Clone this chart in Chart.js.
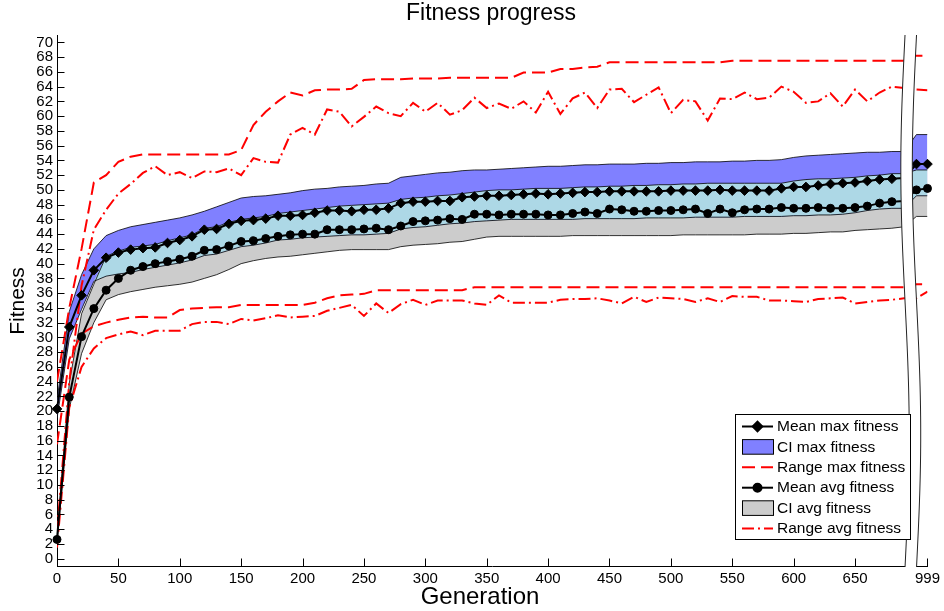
<!DOCTYPE html>
<html><head><meta charset="utf-8">
<style>html,body{margin:0;padding:0;background:#fff;}#wrap{width:944px;height:611px;}</style>
<script src="https://cdn.jsdelivr.net/npm/chart.js@4.4.1/dist/chart.umd.min.js"></script>
</head><body><div id="wrap"><canvas id="c" width="944" height="611"></canvas></div>
<script>
// ---- data ----
const generations = [
0,10,20,30,40,50,60,70,80,90,
100,110,120,130,140,150,160,170,180,190,
200,210,220,230,240,250,260,270,280,290,
300,310,320,330,340,350,360,370,380,390,
400,410,420,430,440,450,460,470,480,490,
500,510,520,530,540,550,560,570,580,590,
600,610,620,630,640,650,660,670,680,690,
990,999];
const meanMax = [
20.3,31.4,35.7,39.1,40.8,41.5,41.9,42.1,42.2,42.8,
43.2,43.7,44.6,44.7,45.4,45.8,45.9,46.1,46.5,46.5,
46.6,46.9,47.2,47.2,47.1,47.3,47.3,47.5,48.2,48.4,
48.4,48.5,48.5,49.0,49.1,49.2,49.2,49.3,49.4,49.5,
49.4,49.5,49.6,49.7,49.7,49.8,49.8,49.8,49.8,49.8,
49.9,49.9,49.9,49.9,50.0,49.9,49.9,49.9,49.9,50.2,
50.4,50.4,50.6,50.8,50.9,51.0,51.2,51.4,51.5,51.6,
53.5,53.5];
const meanAvg = [
2.6,21.9,30.1,33.9,36.4,38.0,39.1,39.6,40.0,40.3,
40.6,41.0,41.8,41.9,42.4,43.0,43.1,43.4,43.7,43.9,
44.0,44.0,44.6,44.6,44.6,44.7,44.8,44.6,45.1,45.7,
45.8,45.9,46.1,46.0,46.7,46.7,46.6,46.7,46.7,46.7,
46.6,46.6,46.8,47.0,46.8,47.4,47.3,47.1,47.1,47.2,
47.2,47.3,47.4,46.8,47.4,46.9,47.3,47.4,47.4,47.6,
47.5,47.5,47.6,47.5,47.5,47.6,47.8,48.2,48.4,48.5,
50.0,50.2];
const ciMaxUpper = [
21.5,33.5,38.5,42.0,43.8,44.5,45.0,45.3,45.6,45.9,
46.2,46.6,47.1,47.7,48.3,48.9,49.1,49.2,49.4,49.6,
49.9,50.1,50.2,50.4,50.5,50.6,50.8,50.9,51.7,51.9,
52.1,52.3,52.4,52.6,52.7,52.7,52.8,52.9,53.0,53.1,
53.2,53.2,53.3,53.4,53.4,53.5,53.5,53.5,53.6,53.6,
53.7,53.7,53.8,53.8,53.8,53.9,53.9,54.0,54.0,54.1,
54.4,54.6,54.7,54.8,54.9,55.0,55.1,55.1,55.2,55.2,
57.5,57.5];
const ciMaxLower = [
19.0,29.8,33.8,37.6,38.3,38.6,38.8,39.2,39.5,39.8,
40.1,40.5,41.1,41.3,41.8,42.3,42.5,42.8,43.2,43.3,
43.5,43.6,43.7,43.8,43.9,43.9,44.0,44.1,44.7,44.9,
45.0,45.2,45.4,45.5,45.7,45.8,45.9,46.0,46.0,46.0,
46.0,46.0,46.0,46.1,46.1,46.1,46.1,46.1,46.2,46.2,
46.2,46.2,46.3,46.3,46.3,46.3,46.4,46.4,46.4,46.4,
46.5,46.5,46.6,46.6,46.7,46.9,47.2,47.4,47.5,47.5,
49.2,49.2];
const ciAvgUpper = [
3.2,23.8,33.2,37.2,41.0,41.7,42.2,42.4,42.6,43.1,
43.5,43.9,44.8,45.0,45.6,46.0,46.2,46.4,46.8,47.0,
47.2,47.4,47.6,47.8,47.9,48.0,48.1,48.2,48.7,48.9,
49.0,49.2,49.3,49.5,49.7,49.9,50.0,50.0,50.1,50.2,
50.2,50.2,50.3,50.4,50.4,50.5,50.5,50.6,50.6,50.7,
50.7,50.8,50.8,50.9,50.9,50.9,50.9,50.9,50.9,50.9,
51.2,51.4,51.5,51.5,51.6,51.7,51.9,52.0,52.2,52.2,
52.7,52.7];
const ciAvgLower = [
2.0,20.3,27.8,32.0,35.1,35.8,36.2,36.5,36.8,37.0,
37.2,37.5,38.0,38.5,39.2,40.0,40.4,40.7,40.9,41.0,
41.2,41.4,41.6,41.8,41.9,41.9,41.9,41.9,42.3,42.5,
42.6,42.7,42.9,43.0,43.3,43.6,43.7,43.7,43.7,43.7,
43.7,43.7,43.8,43.8,43.8,43.8,43.8,43.8,43.8,43.8,
43.8,43.9,43.9,43.9,43.9,43.9,43.9,44.0,44.0,44.0,
44.1,44.1,44.2,44.3,44.3,44.5,44.6,44.7,44.8,45.0,
46.4,46.4];
const rangeMaxUpper = [
24.0,34.0,42.0,51.0,52.0,53.8,54.5,54.8,54.8,54.8,
54.8,54.8,54.8,54.8,54.8,55.4,58.8,60.6,62.0,63.2,
62.8,63.5,63.6,63.6,63.7,64.9,65.0,65.0,65.0,65.1,
65.1,65.1,65.2,65.2,65.2,65.2,65.2,65.2,65.9,65.9,
65.9,66.4,66.4,66.6,66.7,67.3,67.3,67.3,67.3,67.3,
67.3,67.3,67.3,67.3,67.3,67.5,67.5,67.5,67.5,67.5,
67.5,67.5,67.5,67.5,67.5,67.5,67.5,67.5,67.5,67.5,
68.2,68.2];
const rangeMaxLower = [
15.5,27.0,30.5,31.5,32.0,32.4,32.7,32.8,32.7,32.7,
33.7,33.9,34.0,34.1,34.1,34.4,34.4,34.4,34.4,34.4,
34.4,34.7,35.3,35.7,35.8,35.9,36.4,36.4,36.4,36.4,
36.4,36.4,36.4,36.4,36.8,36.8,36.8,36.8,36.8,36.8,
36.8,36.8,36.8,36.8,36.8,36.8,36.8,36.8,36.8,36.8,
36.8,36.8,36.8,36.8,36.8,36.8,36.8,36.8,36.8,36.8,
36.8,36.8,36.8,36.8,36.8,36.8,36.8,36.8,36.8,36.8,
37.2,37.2];
const rangeAvgUpper = [
3.5,24.0,37.0,44.6,47.3,49.5,50.8,52.3,53.2,52.0,
52.4,51.6,52.5,52.4,52.9,52.0,54.3,53.8,53.7,57.5,
58.4,57.5,60.9,60.6,58.6,59.9,61.3,60.4,60.0,61.8,
60.6,61.8,60.2,60.8,62.5,61.1,61.7,61.0,62.0,60.5,
63.3,60.3,62.4,63.2,61.1,63.6,63.7,61.9,62.9,63.9,
60.4,62.2,62.0,59.4,62.4,62.3,63.2,62.3,62.5,64.0,
63.3,61.8,62.0,63.1,61.3,63.6,62.0,63.2,64.0,63.8,
63.6,63.5];
const rangeAvgLower = [
1.5,20.5,26.0,28.5,29.9,30.4,30.8,30.3,30.9,30.9,
30.9,31.8,32.1,32.1,31.8,32.5,32.3,32.6,33.0,32.7,
32.8,32.9,33.6,34.0,34.4,32.9,34.6,33.3,34.5,35.1,
34.4,35.0,35.0,35.0,34.6,34.4,35.7,34.7,34.7,34.7,
34.7,35.1,35.2,35.2,35.3,35.0,34.6,35.5,34.8,35.4,
35.3,35.2,34.8,35.3,34.8,35.6,35.5,35.5,35.0,35.0,
34.9,34.8,35.2,35.3,35.4,34.6,34.8,35.0,35.1,35.3,
35.3,36.2];
const xTickGenerations = [0,50,100,150,200,250,300,350,400,450,500,550,600,650,999];
const yTickValues = [0,2,4,6,8,10,12,14,16,18,20,22,24,26,28,30,32,34,36,38,40,42,44,46,48,50,52,54,56,58,60,62,64,66,68,70];
const hiddenMarkerGen = 690;  // last point before the axis break (no marker)

// ---- broken axis: generations after 700 are shifted left ----
const BREAK_AT = 700, BREAK_SHIFT = 290, BREAK_POS = 690.7;
const xPos = g => (g > BREAK_AT ? g - BREAK_SHIFT : g);
const pts = arr => generations.map((g, i) => ({x: xPos(g), y: arr[i]}));
const radii = r => generations.map(g => (g === hiddenMarkerGen ? 0 : r));
const overlapTop = generations.map((g, i) => {
  const t = Math.min(ciMaxUpper[i], ciAvgUpper[i]), b = Math.max(ciMaxLower[i], ciAvgLower[i]);
  return t > b ? t : b;
});
const overlapBottom = generations.map((g, i) => Math.max(ciMaxLower[i], ciAvgLower[i]));
const tickLabel = {};
xTickGenerations.forEach(g => { tickLabel[xPos(g)] = String(g); });

const BLUE = '#8080FF', LIGHT = '#ADD8E6', GREY = '#CCCCCC', RED = '#FF0000';
const DASH = [13, 6], DASHDOT = [12, 4, 2, 4];
const FONT = 'Liberation Sans, Arial, sans-serif';

const noLine = {borderColor: 'rgba(0,0,0,0)', borderWidth: 0, pointRadius: 0, pointHoverRadius: 0};
const edge = {borderColor: '#000', borderWidth: 0.8, pointRadius: 0, pointHoverRadius: 0};

const datasets = [
  {label: 'Mean max fitness', data: pts(meanMax), borderColor: '#000', borderWidth: 2,
   pointStyle: 'rectRot', pointRadius: radii(4.8), pointBackgroundColor: '#000', pointBorderColor: '#000',
   pointBorderWidth: 1, fill: false, clip: false},
  {label: 'Mean avg fitness', data: pts(meanAvg), borderColor: '#000', borderWidth: 2,
   pointStyle: 'circle', pointRadius: radii(4), pointBackgroundColor: '#000', pointBorderColor: '#000',
   pointBorderWidth: 1, fill: false, clip: false},
  {label: 'Range max fitness', data: pts(rangeMaxUpper), borderColor: RED, borderWidth: 2, borderDash: DASH, pointRadius: 0, fill: false},
  {label: 'Range max fitness (low)', data: pts(rangeMaxLower), borderColor: RED, borderWidth: 2, borderDash: DASH, pointRadius: 0, fill: false},
  {label: 'Range avg fitness', data: pts(rangeAvgUpper), borderColor: RED, borderWidth: 2, borderDash: DASHDOT, pointRadius: 0, fill: false},
  {label: 'Range avg fitness (low)', data: pts(rangeAvgLower), borderColor: RED, borderWidth: 2, borderDash: DASHDOT, pointRadius: 0, fill: false},
  Object.assign({label: 'overlap top', data: pts(overlapTop), fill: '+1', backgroundColor: LIGHT}, noLine),
  Object.assign({label: 'overlap bottom', data: pts(overlapBottom), fill: false}, noLine),
  Object.assign({label: 'CI max fitness', data: pts(ciMaxUpper), fill: '+1', backgroundColor: BLUE}, edge),
  Object.assign({label: 'CI max low', data: pts(ciMaxLower), fill: false}, edge),
  Object.assign({label: 'CI avg fitness', data: pts(ciAvgUpper), fill: '+1', backgroundColor: GREY}, edge),
  Object.assign({label: 'CI avg low', data: pts(ciAvgLower), fill: false}, edge)
];

const insideTicks = {
  id: 'insideTicks',
  afterDatasetsDraw(chart) {
    const {ctx, chartArea: a, scales: {x, y}} = chart;
    ctx.save(); ctx.strokeStyle = '#000'; ctx.lineWidth = 1; ctx.setLineDash([]);
    ctx.beginPath();
    y.ticks.forEach(t => { const py = Math.round(y.getPixelForValue(t.value)) + 0.5; ctx.moveTo(a.left, py); ctx.lineTo(a.left + 7.5, py); });
    x.ticks.forEach(t => { const px = Math.round(x.getPixelForValue(t.value)) + 0.5; ctx.moveTo(px, a.bottom); ctx.lineTo(px, a.bottom - 7.5); });
    ctx.stroke(); ctx.restore();
  }
};

const axisBreak = {
  id: 'axisBreak',
  afterDatasetsDraw(chart) {
    const {ctx, chartArea: a, scales: {x}} = chart;
    const x0 = x.getPixelForValue(BREAK_POS), w = 11.5, amp = 4.2;
    const top = a.top, bot = a.bottom + 1.5, H = bot - top;
    const cx = yy => x0 - amp * Math.sin(2 * Math.PI * (yy - top) / H);
    ctx.save();
    ctx.beginPath();
    for (let yy = top; yy <= bot; yy += 2) ctx.lineTo(cx(yy), yy);
    for (let yy = bot; yy >= top; yy -= 2) ctx.lineTo(cx(yy) + w, yy);
    ctx.closePath(); ctx.fillStyle = '#fff'; ctx.fill();
    ctx.strokeStyle = '#222'; ctx.lineWidth = 1; ctx.setLineDash([]);
    ctx.beginPath(); for (let yy = top; yy <= bot; yy += 2) ctx.lineTo(cx(yy), yy); ctx.stroke();
    ctx.beginPath(); for (let yy = top; yy <= bot; yy += 2) ctx.lineTo(cx(yy) + w, yy); ctx.stroke();
    ctx.restore();
  }
};

const texts = {
  id: 'texts',
  afterDraw(chart) {
    const {ctx} = chart;
    ctx.save(); ctx.fillStyle = '#000'; ctx.textAlign = 'center'; ctx.textBaseline = 'middle';
    ctx.font = '23px ' + FONT;
    ctx.fillText('Fitness progress', 491, 14);
    ctx.font = '24px ' + FONT;
    ctx.fillText('Generation', 480, 597);
    ctx.font = '21px ' + FONT;
    ctx.translate(18, 301); ctx.rotate(-Math.PI / 2); ctx.fillText('Fitness', 0, 0);
    ctx.restore();

    // legend
    const L = 735, T = 414.5, R = 911, B = 539.5;
    ctx.save();
    ctx.fillStyle = '#fff'; ctx.fillRect(L, T, R - L, B - T);
    ctx.strokeStyle = '#000'; ctx.lineWidth = 1; ctx.strokeRect(L + 0.5, T, R - L - 1, B - T);
    const rows = [
      {t: 'Mean max fitness', k: 'lineMark', m: 'rectRot'},
      {t: 'CI max fitness', k: 'box', c: BLUE},
      {t: 'Range max fitness', k: 'dash', d: DASH},
      {t: 'Mean avg fitness', k: 'lineMark', m: 'circle'},
      {t: 'CI avg fitness', k: 'box', c: GREY},
      {t: 'Range avg fitness', k: 'dash', d: DASHDOT}
    ];
    const x1 = 742, x2 = 773, step = 20.4;
    ctx.font = '15.5px ' + FONT; ctx.textAlign = 'left'; ctx.textBaseline = 'middle';
    rows.forEach((r, i) => {
      const yy = T + 12 + i * step;
      if (r.k === 'box') {
        ctx.fillStyle = r.c; ctx.fillRect(x1, yy - 7.3, x2 - x1, 14.6);
        ctx.strokeStyle = '#000'; ctx.lineWidth = 1; ctx.strokeRect(x1 + 0.5, yy - 7.3, x2 - x1, 14.6);
      } else if (r.k === 'dash') {
        ctx.strokeStyle = RED; ctx.lineWidth = 2; ctx.setLineDash(r.d);
        ctx.beginPath(); ctx.moveTo(x1, yy); ctx.lineTo(x2, yy); ctx.stroke(); ctx.setLineDash([]);
      } else {
        ctx.strokeStyle = '#000'; ctx.lineWidth = 2;
        ctx.beginPath(); ctx.moveTo(x1, yy); ctx.lineTo(x2, yy); ctx.stroke();
        ctx.fillStyle = '#000';
        Chart.helpers.drawPoint(ctx, {pointStyle: r.m, radius: r.m === 'circle' ? 4 : 4.8, borderWidth: 1}, (x1 + x2) / 2, yy);
        ctx.fill();
      }
      ctx.fillStyle = '#000'; ctx.fillText(r.t, 777, yy + 0.5);
    });
    ctx.restore();
  }
};

new Chart(document.getElementById('c'), {
  type: 'line',
  data: {datasets},
  options: {
    responsive: false, animation: false, devicePixelRatio: 1,
    elements: {line: {tension: 0}},
    layout: {padding: {left: 0, top: 35, right: 14, bottom: 0}},
    plugins: {legend: {display: false}, tooltip: {enabled: false}, title: {display: false},
              filler: {drawTime: 'beforeDatasetsDraw', propagate: false}},
    scales: {
      x: {type: 'linear', min: 0, max: xPos(999),
          afterBuildTicks: s => { s.ticks = xTickGenerations.map(g => ({value: xPos(g)})); },
          afterFit: s => { s.height = 45; },
          grid: {display: false, drawTicks: false},
          border: {display: true, color: '#000', width: 1},
          ticks: {autoSkip: false, maxRotation: 0, padding: 4, color: '#000',
                  font: {family: FONT, size: 15},
                  callback: v => (tickLabel[v] !== undefined ? tickLabel[v] : '')}},
      y: {type: 'linear', min: -1, max: 71,
          afterBuildTicks: s => { s.ticks = yTickValues.map(v => ({value: v})); },
          afterFit: s => { s.width = 57; },
          grid: {display: false, drawTicks: false},
          border: {display: true, color: '#000', width: 1},
          ticks: {autoSkip: false, padding: 4, color: '#000', font: {family: FONT, size: 15}}}
    }
  },
  plugins: [insideTicks, axisBreak, texts]
});
</script></body></html>
